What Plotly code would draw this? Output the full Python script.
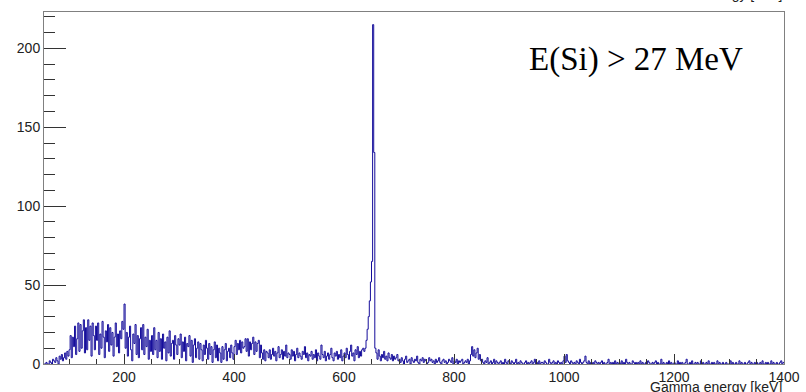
import plotly.graph_objects as go

# Gamma-ray spectrum, 2 keV bins from 54 keV to 1400 keV, counts per bin
BIN_START = 54
BIN_WIDTH = 2

counts_054_100 = [0, 0, 1, 0, 0, 2, 1, 0, 3, 2, 1, 4, 2, 0, 5, 3, 6, 2, 4, 7, 3, 8, 5]
counts_100_150 = [9, 18, 4, 17, 11, 24, 6, 16, 26, 8, 25, 10, 21, 28, 7, 23, 9, 28, 15, 24, 5, 26, 18, 9, 24]
counts_150_200 = [15, 26, 6, 19, 10, 27, 17, 4, 21, 14, 25, 8, 23, 12, 20, 5, 17, 26, 11, 19, 7, 21, 16, 27, 22]
counts_200_250 = [38, 10, 20, 5, 17, 24, 9, 2, 19, 13, 25, 6, 18, 4, 16, 23, 9, 25, 6, 17, 11, 22, 3, 15, 8]
counts_250_300 = [18, 6, 23, 9, 15, 4, 20, 8, 16, 3, 19, 10, 14, 2, 17, 7, 21, 5, 13, 15, 3, 18, 12, 6, 16]
counts_300_350 = [12, 19, 4, 14, 8, 17, 2, 13, 11, 18, 5, 15, 1, 12, 16, 4, 10, 14, 3, 13, 9, 2, 12, 6, 15]
counts_350_400 = [10, 3, 13, 6, 11, 1, 9, 14, 4, 12, 2, 10, 7, 1, 11, 3, 9, 13, 2, 8, 10, 4, 12, 7, 3]
counts_400_460 = [11, 15, 6, 13, 9, 15, 7, 14, 10, 11, 16, 8, 16, 5, 14, 9, 13, 17, 6, 14,
                  8, 13, 15, 4, 12, 7, 3, 9, 2, 8]
counts_460_540 = [7, 4, 9, 3, 6, 10, 5, 8, 2, 7, 11, 4, 6, 9, 3, 8, 5, 12, 4, 7,
                  6, 3, 9, 5, 8, 2, 6, 10, 4, 7, 5, 3, 8, 6, 11, 4, 7, 2, 6, 5]
counts_540_600 = [8, 3, 6, 4, 9, 2, 7, 5, 3, 12, 6, 4, 8, 2, 5, 7, 3, 6, 10, 4,
                  2, 7, 5, 8, 3, 6, 4, 9, 2, 5]
counts_600_636 = [7, 4, 10, 6, 3, 8, 12, 5, 7, 2, 9, 6, 11, 4, 8, 5, 9, 10]
counts_636_656 = [8, 10, 15, 22, 30, 40, 52, 65, 215, 134]
counts_656_700 = [10, 7, 3, 9, 5, 2, 6, 4, 8, 3, 5, 2, 7, 4, 3, 6, 2, 5, 3, 4, 6, 2]
counts_700_830 = [3, 1, 4, 2, 0, 3, 5, 1, 2, 3, 0, 4, 2, 1, 3, 2, 5, 1, 0, 3,
                  2, 4, 1, 3, 2, 0, 1, 4, 2, 3, 1, 2, 0, 3, 1, 2, 4, 1, 0, 2,
                  3, 1, 2, 0, 1, 3, 2, 1, 4, 0, 2, 1, 3, 0, 2, 1, 2, 3, 0, 1,
                  2, 1, 3, 0, 2]
counts_830_850 = [6, 11, 5, 9, 4, 7, 10, 3, 6, 2]
counts_850_1000 = [3, 1, 0, 2, 1, 4, 0, 1, 2, 0, 1, 3, 0, 2, 1, 0, 1, 2, 0, 1, 0, 3, 1, 0, 2,
                   1, 0, 2, 1, 0, 1, 3, 0, 1, 0, 2, 1, 0, 0, 1, 2, 0, 1, 0, 1, 2, 0, 1, 3, 0,
                   1, 0, 2, 0, 1, 1, 0, 2, 1, 0, 0, 3, 1, 0, 1, 2, 0, 1, 0, 2, 1, 0, 1, 0, 2]
counts_1000_1200 = [5, 1, 6, 2, 1, 0, 2, 1, 0, 1, 0, 2, 1, 0, 3, 1, 0, 1, 2, 5, 1, 0, 2, 0, 1,
                    0, 1, 0, 2, 1, 0, 1, 0, 1, 2, 0, 1, 0, 0, 1, 3, 0, 1, 0, 1, 0, 2, 0, 1, 0,
                    1, 0, 2, 0, 1, 0, 3, 1, 0, 1, 0, 0, 2, 1, 0, 1, 0, 1, 0, 2, 0, 1, 0, 0, 1,
                    0, 2, 1, 0, 0, 1, 0, 1, 2, 0, 1, 0, 0, 3, 0, 1, 0, 0, 1, 0, 2, 0, 1, 0, 0]
counts_1200_1400 = [1, 0, 0, 2, 0, 1, 0, 1, 0, 0, 1, 3, 0, 0, 1, 0, 2, 0, 0, 1, 0, 1, 0, 0, 2,
                    0, 1, 0, 0, 1, 0, 2, 0, 0, 1, 0, 1, 0, 0, 2, 0, 1, 0, 0, 1, 0, 0, 1, 0, 0,
                    0, 2, 0, 1, 0, 0, 1, 0, 0, 2, 0, 1, 0, 0, 1, 0, 0, 1, 2, 0, 1, 0, 0, 1, 0,
                    1, 0, 0, 1, 0, 2, 0, 0, 1, 0, 1, 0, 0, 2, 0, 1, 0, 0, 1, 0, 0, 1, 2, 0, 1]

counts = (counts_054_100 + counts_100_150 + counts_150_200 + counts_200_250 + counts_250_300
          + counts_300_350 + counts_350_400 + counts_400_460 + counts_460_540 + counts_540_600
          + counts_600_636 + counts_636_656 + counts_656_700 + counts_700_830 + counts_830_850
          + counts_850_1000 + counts_1000_1200 + counts_1200_1400)

edges = [BIN_START + BIN_WIDTH * i for i in range(len(counts) + 1)]

# step outline of the histogram (ROOT "HIST" style)
step_x = [edges[0]] + edges
step_y = [0] + counts + [counts[-1]]

x_tick_vals = [200, 400, 600, 800, 1000, 1200, 1400]
y_tick_vals = [0, 50, 100, 150, 200]

LINE_COLOR = "#140c9a"
AXIS_FONT = dict(family="Liberation Sans, Arial, sans-serif", size=14, color="#222222")

fig = go.Figure()
fig.add_trace(go.Scatter(
    x=step_x, y=step_y, mode="lines",
    line=dict(color=LINE_COLOR, width=1, shape="hv"),
    hoverinfo="skip", showlegend=False,
))

fig.update_xaxes(
    range=[54.5, 1400], tickvals=x_tick_vals, ticks="inside", ticklen=10, tickwidth=1,
    tickcolor="#333333", showgrid=False, zeroline=False, automargin=False,
    showline=True, linecolor="#808080", linewidth=1, mirror=True,
    tickfont=AXIS_FONT,
    minor=dict(dtick=50, tick0=0, ticks="inside", ticklen=5, tickcolor="#333333", showgrid=False),
)
fig.update_yaxes(
    range=[0, 223], tickvals=y_tick_vals, ticks="inside", ticklen=22, tickwidth=1,
    tickcolor="#333333", showgrid=False, zeroline=False, automargin=False,
    showline=True, linecolor="#808080", linewidth=1, mirror=True,
    tickfont=AXIS_FONT,
    minor=dict(dtick=10, tick0=0, ticks="inside", ticklen=11, tickcolor="#333333", showgrid=False),
)

fig.add_annotation(
    text="E(Si) > 27 MeV", xref="paper", yref="paper", x=0.6527, y=0.864,
    xanchor="left", yanchor="middle", showarrow=False,
    font=dict(family="Liberation Serif, Times New Roman, serif", size=33, color="black"),
)
# x-axis title, right-aligned under the axis
fig.add_annotation(
    text="Gamma energy [keV]", xref="paper", yref="paper", x=1.0, y=-0.036,
    xanchor="right", yanchor="top", showarrow=False,
    font=AXIS_FONT,
)
# histogram title at the top edge of the canvas
fig.add_annotation(
    text="Gamma energy [keV]", xref="paper", yref="paper", x=1.0, y=1.024,
    xanchor="right", yanchor="bottom", showarrow=False,
    font=AXIS_FONT,
)

fig.update_layout(
    width=806, height=392,
    margin=dict(l=44, r=22, t=12, b=28, pad=0),
    paper_bgcolor="white", plot_bgcolor="white",
)

fig.write_html("out.html")
